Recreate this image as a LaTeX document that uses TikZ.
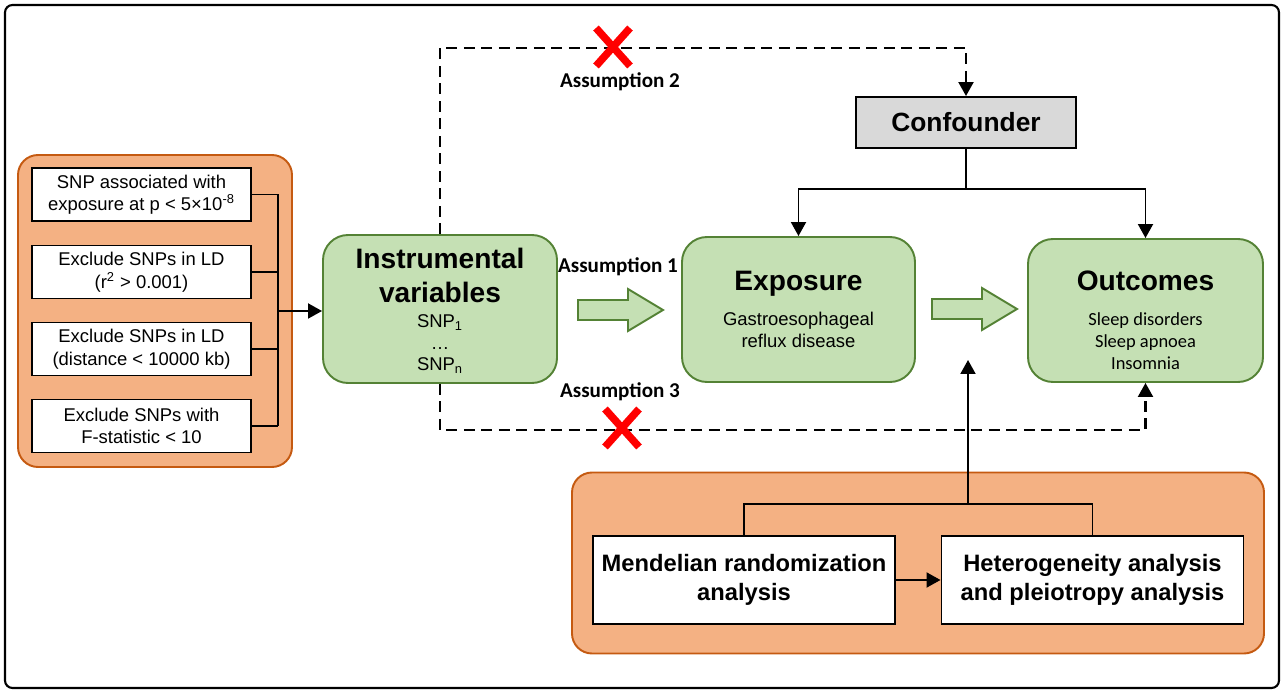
\documentclass[tikz,border=0pt]{standalone}
\usepackage{fontspec}
\setmainfont{Liberation Sans}
\newfontfamily\calibri{Carlito}
\usetikzlibrary{arrows.meta}

\definecolor{greenfill}{RGB}{197,224,180}
\definecolor{greenline}{RGB}{84,130,53}
\definecolor{orangefill}{RGB}{244,177,131}
\definecolor{orangeline}{RGB}{197,90,17}
\definecolor{grayfill}{RGB}{217,217,217}

\begin{document}
\begin{tikzpicture}[x=0.2mm, y=-0.2mm,
  panel/.style={draw=orangeline, fill=orangefill, line width=1.1pt, rounded corners=4mm},
  filterbox/.style={draw, fill=white, line width=1pt, minimum width=43.8mm, minimum height=10.6mm,
    align=center, inner sep=0pt, font=\fontsize{10.5}{12.8}\selectfont},
  greenbox/.style={draw=greenline, fill=greenfill, line width=1.1pt, rounded corners=5mm},
  titletext/.style={inner sep=0pt, align=center, font=\fontsize{16}{19.3}\selectfont\bfseries},
  subtext/.style={inner sep=0pt, align=center, anchor=north, font=\fontsize{10.5}{12.4}\selectfont},
  analysisbox/.style={draw, fill=white, line width=1.1pt, minimum width=60.4mm, minimum height=17.6mm,
    align=center, font=\fontsize{13.5}{16.5}\selectfont\bfseries},
  assumption/.style={inner sep=0pt, anchor=base, font=\calibri\fontsize{12}{14}\selectfont\bfseries},
  link/.style={line width=1.1pt, -{Triangle[length=2.8mm,width=3mm]}},
  dashlink/.style={link, line width=1.2pt, dash pattern=on 2.2mm off 1.3mm},
  redcross/.pic={\draw[red, line width=1.5mm] (-17,-19) -- (17,19) (-17,19) -- (17,-19);},
  fatarrow/.pic={\draw[draw=greenline, fill=greenfill, line width=1.1pt]
    (0,-10) -- (50,-10) -- (50,-21) -- (85,0) -- (50,21) -- (50,10) -- (0,10) -- cycle;}
]
\useasboundingbox (0,0) rectangle (1284,691);
\draw[line width=1.2pt, rounded corners=1.5mm] (5,5) rectangle (1279,688);

% selection of the SNPs
\node[panel, minimum width=54.8mm, minimum height=62.4mm] (filters) at (155,311) {};
\node[filterbox] (f1) at (141.5,194.5) {SNP associated with\\exposure at p < 5×10\textsuperscript{-8}};
\node[filterbox] (f2) at (141.5,272) {Exclude SNPs in LD\\(r\textsuperscript{2} > 0.001)};
\node[filterbox] (f3) at (141.5,349) {Exclude SNPs in LD\\(distance < 10000 kb)};
\node[filterbox] (f4) at (141.5,426) {Exclude SNPs with\\F-statistic < 10};
\coordinate (gather) at (278,311);
\foreach \f in {f1,f2,f3,f4}
  \draw[line width=1.1pt] (\f.east) -- (\f.east -| gather);
\draw[line width=1.1pt] (f1.east -| gather) -- (f4.east -| gather);

% the three boxes
\node[greenbox, minimum width=46.8mm, minimum height=29.6mm] (iv) at (440,309) {};
\node[titletext, anchor=north] (ivTitle) at (440,248) {Instrumental\\variables};
\node[subtext] (ivSnp) at (440,314) {SNP\textsubscript{1}\\…\\SNP\textsubscript{n}};

\node[greenbox, minimum width=46.6mm, minimum height=29mm] (expo) at (798.5,309.5) {};
\node[titletext, anchor=base] (expoTitle) at (798.5,291) {Exposure};
\node[subtext, font=\fontsize{10.5}{12.6}\selectfont] (expoSub) at (798.5,311.5) {Gastroesophageal\\reflux disease};

\node[greenbox, minimum width=47mm, minimum height=28.6mm] (outc) at (1145.5,310.5) {};
\node[titletext, anchor=base] (outcTitle) at (1145.5,291) {Outcomes};
\node[subtext, font=\calibri\fontsize{10.5}{12.5}\selectfont] (outcSub) at (1145.5,312) {Sleep disorders\\Sleep apnoea\\Insomnia};

\node[draw, fill=grayfill, line width=1.1pt, minimum width=44mm, minimum height=10.2mm,
  font=\fontsize{15}{18}\selectfont\bfseries] (conf) at (966,122.5) {Confounder};

\draw[link] (gather) -- (gather -| iv.west);
\pic at (578,310) {fatarrow};
\pic at (932,309) {fatarrow};

\coordinate (confsplit) at (966,189);
\draw[link] (conf.south) -- (confsplit) -| (expo.north);
\draw[link] (confsplit) -| (outc.north);

% assumptions
\coordinate (topbend) at (440,48);
\coordinate (lowbend) at (440,430);
\draw[dashlink] (iv.north) -- (topbend) -| (conf.north);
\draw[dashlink] (iv.south) -- (lowbend) -| (outc.south);
\pic at (613,47) {redcross};
\pic at (622,428) {redcross};
\node[assumption] (as1) at (618,273) {Assumption 1};
\node[assumption] (as2) at (620,88) {Assumption 2};
\node[assumption] (as3) at (620,398) {Assumption 3};

% analyses
\node[panel, minimum width=138.4mm, minimum height=36.2mm] (analyses) at (918,563) {};
\node[analysisbox] (mr) at (744,580) {Mendelian randomization\\analysis};
\node[analysisbox] (het) at (1092.5,580) {Heterogeneity analysis\\and pleiotropy analysis};
\coordinate (mrsplit) at (968,504);
\coordinate (effect) at (968,360);
\draw[line width=1.1pt] (mr.north) |- (mrsplit) -| (het.north);
\draw[link] (mrsplit) -- (effect);
\draw[link] (mr.east) -- (het.west);
\end{tikzpicture}
\end{document}
